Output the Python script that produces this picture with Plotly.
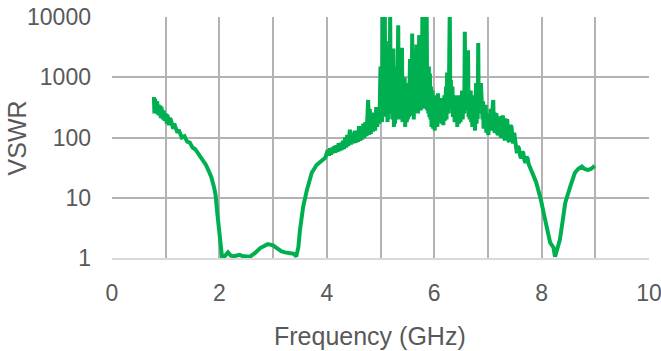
import plotly.graph_objects as go

# VSWR sweep (GHz, VSWR)
freq_low = [0.78, 0.79, 0.80, 0.81, 0.82, 0.83, 0.84, 0.86, 0.87, 0.88, 0.90, 0.91,
            0.92, 0.95, 0.96, 0.98, 1.00, 1.02, 1.03, 1.06, 1.08, 1.10, 1.14, 1.16,
            1.18, 1.22, 1.24, 1.27, 1.30, 1.35, 1.40, 1.45, 1.50, 1.55, 1.60, 1.65,
            1.70, 1.75, 1.80, 1.85, 1.90, 1.93, 1.96, 1.99, 2.02, 2.05, 2.07]
vswr_low = [470, 250, 440, 270, 410, 250, 400, 240, 350, 230, 340, 210,
            320, 200, 280, 190, 250, 170, 240, 160, 210, 190, 140, 170,
            150, 120, 135, 112, 100, 105, 85, 82, 68, 64, 55, 48,
            42, 35, 28, 22, 15, 11, 5.6, 3.0, 1.6, 1.02, 1.0]

freq_match = [2.12, 2.16, 2.21, 2.26, 2.32, 2.38, 2.43, 2.48, 2.57, 2.66, 2.76, 2.90,
              3.00, 3.07, 3.15, 3.22, 3.31, 3.38, 3.43, 3.47, 3.50, 3.56, 3.63, 3.72,
              3.81, 3.90, 3.97]
vswr_match = [1.1, 1.24, 1.1, 1.06, 1.1, 1.13, 1.08, 1.08, 1.05, 1.2, 1.46, 1.70,
              1.62, 1.46, 1.3, 1.24, 1.22, 1.18, 1.06, 1.5, 2.9, 7.1, 13.5, 26,
              35, 41, 46]

freq_mid = [4.02, 4.04, 4.06, 4.08, 4.10, 4.12, 4.14, 4.16, 4.18, 4.20, 4.22, 4.24,
            4.26, 4.28, 4.30, 4.32, 4.34, 4.36, 4.38, 4.40, 4.43, 4.45, 4.47, 4.50,
            4.52, 4.54, 4.56, 4.58, 4.60, 4.62, 4.64, 4.66, 4.68, 4.70, 4.72, 4.74,
            4.77, 4.79, 4.80, 4.82, 4.84, 4.86, 4.88, 4.90, 4.92, 4.94, 4.96, 4.98]
vswr_mid = [62, 50, 66, 52, 68, 55, 72, 56, 74, 58, 80, 60,
            82, 62, 88, 64, 100, 68, 110, 72, 135, 76, 120, 80,
            130, 82, 120, 85, 155, 88, 140, 92, 170, 98, 180, 105,
            420, 110, 300, 115, 260, 125, 220, 130, 320, 150, 260, 170]

freq_noisy = [5.00, 5.01, 5.02, 5.03, 5.04, 5.05, 5.06, 5.07, 5.08, 5.09, 5.10, 5.11,
              5.12, 5.13, 5.14, 5.15, 5.16, 5.17, 5.18, 5.19, 5.20, 5.21, 5.22, 5.23,
              5.24, 5.25, 5.26, 5.27, 5.28, 5.29, 5.30, 5.31, 5.33, 5.34, 5.35, 5.36,
              5.38, 5.39, 5.40, 5.41, 5.42, 5.44, 5.45, 5.46, 5.48, 5.49, 5.50, 5.51,
              5.52, 5.53, 5.55, 5.56, 5.57, 5.58, 5.59, 5.60, 5.61, 5.62, 5.64, 5.65,
              5.67, 5.68, 5.69, 5.70, 5.72, 5.73, 5.74, 5.75, 5.76, 5.77, 5.78, 5.79,
              5.80, 5.81, 5.82, 5.83, 5.84, 5.85, 5.86, 5.87, 5.88, 5.89, 5.90, 5.91,
              5.92, 5.93, 5.94, 5.95, 5.97, 5.98, 6.00, 6.01, 6.03, 6.04, 6.05, 6.06,
              6.07, 6.08, 6.10, 6.11, 6.13, 6.14, 6.16, 6.17, 6.19, 6.20, 6.22, 6.23,
              6.24, 6.25, 6.26, 6.27, 6.29, 6.30, 6.31, 6.32, 6.34, 6.35, 6.37, 6.38,
              6.40, 6.41, 6.42, 6.43, 6.45, 6.46, 6.48, 6.49, 6.52, 6.53, 6.55, 6.56,
              6.57, 6.58, 6.60, 6.61, 6.63, 6.64, 6.65, 6.66, 6.68, 6.69, 6.70, 6.71,
              6.72, 6.73, 6.75, 6.76, 6.78, 6.79, 6.80, 6.81, 6.82, 6.83, 6.85, 6.86,
              6.87, 6.88, 6.89, 6.90, 6.91, 6.92, 6.94, 6.95, 6.96, 6.97, 6.98, 6.99]
vswr_noisy = [1500, 200, 600, 180, 12000, 250, 900, 220, 15000, 300, 800, 250,
              3000, 180, 2500, 200, 4000, 250, 12000, 280, 1800, 300, 2500, 200,
              3000, 150, 900, 170, 1500, 250, 900, 200, 7300, 220, 700, 200,
              2500, 250, 3100, 180, 1000, 200, 1000, 150, 700, 180, 800, 200,
              600, 220, 2000, 300, 1500, 250, 5300, 230, 800, 200, 2500, 280,
              3500, 260, 900, 250, 5000, 300, 1200, 280, 2000, 320, 12000, 400,
              3000, 300, 15000, 350, 2500, 300, 12000, 280, 1200, 250, 1500, 220,
              1150, 200, 700, 150, 600, 140, 500, 130, 500, 160, 400, 150,
              540, 180, 450, 200, 450, 170, 400, 160, 500, 190, 700, 200,
              1200, 280, 600, 250, 15000, 320, 900, 300, 700, 220, 500, 180,
              400, 200, 500, 150, 500, 170, 450, 180, 600, 200, 500, 250,
              5700, 300, 1200, 280, 2800, 220, 600, 200, 600, 180, 500, 150,
              420, 160, 300, 130, 800, 170, 400, 200, 3700, 260, 600, 250,
              800, 300, 470, 200, 400, 140, 300, 160, 350, 120, 250, 140]

freq_high = [7.01, 7.02, 7.04, 7.05, 7.07, 7.08, 7.10, 7.11, 7.13, 7.14, 7.16, 7.17,
             7.19, 7.20, 7.22, 7.23, 7.25, 7.26, 7.28, 7.30, 7.32, 7.34, 7.36, 7.38,
             7.40, 7.42, 7.44, 7.46, 7.47, 7.49, 7.50, 7.52, 7.54, 7.56, 7.58, 7.60,
             7.62, 7.64, 7.66, 7.68, 7.70, 7.72, 7.74, 7.76, 7.78, 7.82, 7.86, 7.90,
             7.95, 7.99, 8.05, 8.10, 8.16, 8.22, 8.25, 8.30, 8.34, 8.39, 8.44, 8.53,
             8.62, 8.68, 8.75, 8.80, 8.86, 8.92, 8.96, 8.99]
vswr_high = [110, 250, 130, 300, 130, 260, 420, 140, 120, 240, 250, 120,
             110, 220, 200, 110, 100, 210, 230, 100, 90, 190, 200, 90,
             85, 160, 150, 90, 80, 120, 100, 65, 55, 72, 65, 50,
             45, 58, 55, 42, 38, 48, 45, 36, 32, 28, 22, 18,
             13, 9, 5, 3.3, 1.8, 1.5, 1.05, 1.5, 2.0, 4, 8.2, 15,
             26, 30, 33, 30, 29, 30, 32, 34]

freq = freq_low + freq_match + freq_mid + freq_noisy + freq_high
vswr = vswr_low + vswr_match + vswr_mid + vswr_noisy + vswr_high

x_ticks = [0, 2, 4, 6, 8, 10]
y_ticks = [1, 10, 100, 1000, 10000]

font_family = "Liberation Sans, Arial, sans-serif"
grey_text = "#595959"
grid = "#B3B3B3"

fig = go.Figure()
fig.add_trace(go.Scatter(x=freq, y=vswr, mode="lines",
                         line=dict(color="#00B050", width=4),
                         showlegend=False))

fig.update_layout(
    width=661, height=351,
    margin=dict(l=112, r=12, t=17, b=93, autoexpand=False),
    paper_bgcolor="white", plot_bgcolor="white",
    font=dict(family=font_family, size=23, color=grey_text),
    annotations=[
        dict(text="Frequency (GHz)", xref="paper", yref="paper",
             x=0.48, y=-0.325, xanchor="center", yanchor="middle",
             showarrow=False, font=dict(size=25, color=grey_text)),
        dict(text="VSWR", xref="paper", yref="paper",
             x=-0.177, y=0.5, xanchor="center", yanchor="middle",
             textangle=-90, showarrow=False, font=dict(size=25, color=grey_text)),
    ],
)

fig.update_xaxes(range=[0, 10.0001], tickvals=x_ticks, ticktext=[str(v) for v in x_ticks],
                 automargin=False, ticklabeloverflow="allow",
                 showgrid=True, gridcolor=grid, gridwidth=1.5,
                 minor=dict(dtick=1, showgrid=True, gridcolor=grid, gridwidth=1.5),
                 showline=True, linecolor="#D9D9D9", linewidth=1.5,
                 zeroline=False, ticks="", ticklabelstandoff=14)
fig.update_yaxes(type="log", range=[0, 4], tickvals=y_ticks,
                 ticktext=[str(v) for v in y_ticks], automargin=False,
                 ticklabeloverflow="allow",
                 showgrid=True, gridcolor=grid, gridwidth=1.5,
                 showline=False, zeroline=False, ticks="", ticklabelstandoff=20)

# the page's default body margin would push the figure 8px off
fig.write_html("out.html", config={"displayModeBar": False},
               post_script="document.body.style.margin = '0px';")
